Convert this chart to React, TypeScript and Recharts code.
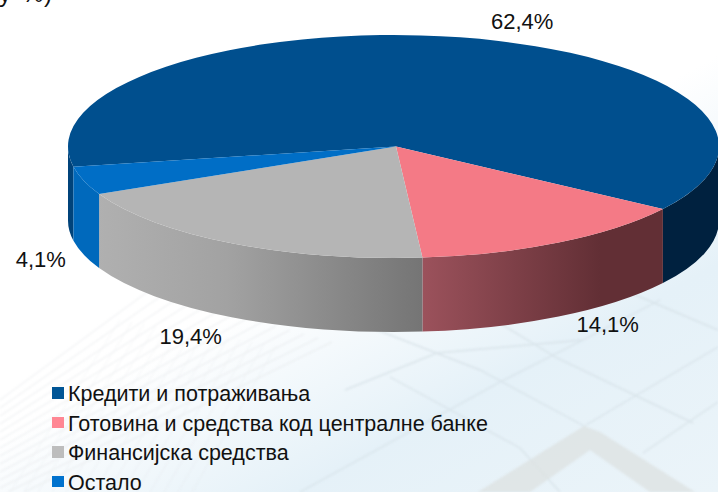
import { Legend, Pie, PieChart } from "recharts";

const categories = [
    "Кредити и потраживања",
    "Готовина и средства код централне банке",
    "Финансијска средства",
    "Остало",
];
const shares = [62.4, 14.1, 19.4, 4.1];

const TOP_COLORS = ["#004F8E", "#F47A86", "#B5B5B5", "#006EC6"];
const WALL_FILLS = ["url(#wallNavy)", "url(#wallPink)", "url(#wallGrey)", "url(#wallBlue)"];
const LEGEND_COLORS = ["#005596", "#FF8794", "#BDBDBD", "#0072CE"];
// label offset from the slice's rim point
const LABEL_OFFSETS = [
    [62, -16],
    [49, 82],
    [-41, 93],
    [-43, 79],
];

const WIDTH = 718;
const HEIGHT = 492;
const CX = 393.5;
const CY = 146.5;
const RX = 325.5;
const RY = 111.5;
const DEPTH = 74;
const APEX_DX = 2.5;
const FONT = "'Liberation Sans', Arial, sans-serif";

const chartData = categories.map((name, i) => ({ name, value: shares[i], fill: TOP_COLORS[i] }));

const rim = (angle: number) => {
    const rad = (angle * Math.PI) / 180;
    return { x: CX + RX * Math.cos(rad), y: CY - RY * Math.sin(rad) };
};

// draws side wall + top face of one slice as an ellipse piece
function SliceShape(props: any) {
    const { startAngle, endAngle, fill, index } = props;
    const hi = Math.max(startAngle, endAngle);
    const lo = Math.min(startAngle, endAngle);
    const a = rim(hi);
    const b = rim(lo);
    const large = hi - lo > 180 ? 1 : 0;
    const top = `M${CX + APEX_DX},${CY} L${a.x},${a.y} A${RX},${RY} 0 ${large} 1 ${b.x},${b.y} Z`;

    // only the front half of the rim shows a wall
    const walls: string[] = [];
    [[-180, 0], [180, 360]].forEach(([from, to]) => {
        const w0 = Math.max(lo, from);
        const w1 = Math.min(hi, to);
        if (w1 <= w0) return;
        const p = rim(w1);
        const q = rim(w0);
        walls.push(
            `M${p.x},${p.y} A${RX},${RY} 0 0 1 ${q.x},${q.y} L${q.x},${q.y + DEPTH} A${RX},${RY} 0 0 0 ${p.x},${p.y + DEPTH} Z`
        );
    });

    return (
        <g>
            {walls.map((d, i) => (
                <path key={i} d={d} fill={WALL_FILLS[index]} />
            ))}
            <path d={top} fill={fill} />
        </g>
    );
}

function renderLabel(props: any) {
    const { midAngle, value, index } = props;
    const p = rim(midAngle);
    return (
        <text
            x={p.x + LABEL_OFFSETS[index][0]}
            y={p.y + LABEL_OFFSETS[index][1]}
            textAnchor="middle"
            dominantBaseline="central"
            fontFamily={FONT}
            fontSize={22}
            fill="#111"
        >
            {value.toFixed(1).replace(".", ",") + "%"}
        </text>
    );
}

function renderLegend(props: any) {
    return (
        <div style={{ position: "relative", width: WIDTH, height: 107, fontFamily: FONT, fontSize: 21.5, color: "#111" }}>
            {(props.payload || []).map((item: any, i: number) => (
                <div key={item.value} style={{ position: "absolute", left: 52, top: i * 29.6, height: 18, whiteSpace: "nowrap", lineHeight: "18px" }}>
                    <span style={{ position: "absolute", left: 0, top: 2, width: 11.5, height: 11.5, background: LEGEND_COLORS[i] }} />
                    <span style={{ position: "absolute", left: 16, top: 0 }}>{item.value}</span>
                </div>
            ))}
        </div>
    );
}

// faint building photo behind the chart
function Backdrop() {
    const mesh: number[] = [];
    for (let i = 0; i < 14; i++) mesh.push(i);
    return (
        <svg width={WIDTH} height={HEIGHT} style={{ position: "absolute", left: 0, top: 0, filter: "blur(0.9px)" }}>
            <g stroke="#E2E5E8" strokeWidth={1} opacity={0.7}>
                {mesh.map((i) => (
                    <line key={"a" + i} x1={0} y1={400 + i * 8} x2={150 + i * 14} y2={290 + i * 4} />
                ))}
                {mesh.map((i) => (
                    <line key={"b" + i} x1={10 + i * 14} y1={492} x2={120 + i * 12} y2={320 + i * 2} opacity={0.5} />
                ))}
            </g>
            <g stroke="#D3DEE4" strokeWidth={1.4} fill="none" opacity={0.7}>
                <path d="M300,300 L480,370 L586,427" />
                <path d="M437,285 L557,358 L693,423" />
                <path d="M345,390 L437,353 L583,340" />
                <path d="M586,425 L718,347" />
                <path d="M643,453 L718,402" />
                <path d="M500,382 L583,340 L660,300" />
                <path d="M390,377 L520,448 L560,492" />
                <path d="M300,492 L500,382" />
                <path d="M612,285 L718,330" />
            </g>
            <path d="M584,426 L600,432 L695,492 L650,492 L590,450 L530,492 L478,492 Z" fill="#DDE2E2" opacity={0.8} />
        </svg>
    );
}

export default function App() {
    return (
        <div
            style={{
                position: "absolute",
                left: 0,
                top: 0,
                width: WIDTH,
                height: HEIGHT,
                overflow: "hidden",
                background: "linear-gradient(152deg, #FFFFFF 50%, #E5F1F8 74%, #EBF4F9 100%)",
            }}
        >
            <Backdrop />
            <div style={{ position: "absolute", left: 0, top: 0 }}>
                <PieChart width={WIDTH} height={HEIGHT} margin={{ top: 0, right: 0, bottom: 0, left: 0 }}>
                    <defs>
                        <linearGradient id="wallNavy" gradientUnits="userSpaceOnUse" x1={68} x2={718} y1={0} y2={0}>
                            <stop offset="0" stopColor="#00437A" />
                            <stop offset="0.5" stopColor="#00437A" />
                            <stop offset="0.5" stopColor="#00213F" />
                            <stop offset="1" stopColor="#00213F" />
                        </linearGradient>
                        <linearGradient id="wallPink" gradientUnits="userSpaceOnUse" x1={421} x2={600} y1={0} y2={0}>
                            <stop offset="0" stopColor="#9C525C" />
                            <stop offset="1" stopColor="#622F35" />
                        </linearGradient>
                        <linearGradient id="wallGrey" gradientUnits="userSpaceOnUse" x1={98} x2={421} y1={0} y2={0}>
                            <stop offset="0" stopColor="#B0B0B0" />
                            <stop offset="0.4" stopColor="#A2A2A2" />
                            <stop offset="1" stopColor="#757575" />
                        </linearGradient>
                        <linearGradient id="wallBlue" gradientUnits="userSpaceOnUse" x1={73} x2={98} y1={0} y2={0}>
                            <stop offset="0" stopColor="#0069BC" />
                            <stop offset="1" stopColor="#0069BC" />
                        </linearGradient>
                    </defs>
                    <Pie
                        data={chartData}
                        dataKey="value"
                        nameKey="name"
                        cx={CX}
                        cy={CY}
                        outerRadius={RX}
                        startAngle={190.5}
                        endAngle={-169.5}
                        stroke="none"
                        shape={SliceShape}
                        label={renderLabel}
                        labelLine={false}
                        isAnimationActive={false}
                        rootTabIndex={-1}
                    />
                    <Legend
                        content={renderLegend}
                        itemSorter={null}
                        wrapperStyle={{ position: "absolute", left: 0, top: 385, width: WIDTH, height: 107, bottom: "auto" }}
                    />
                    <text y={2} fontFamily={FONT} fontSize={24} fill="#111">
                        <tspan x={-1}>у</tspan>
                        <tspan x={22}>%</tspan>
                        <tspan x={44}>)</tspan>
                    </text>
                </PieChart>
            </div>
        </div>
    );
}
